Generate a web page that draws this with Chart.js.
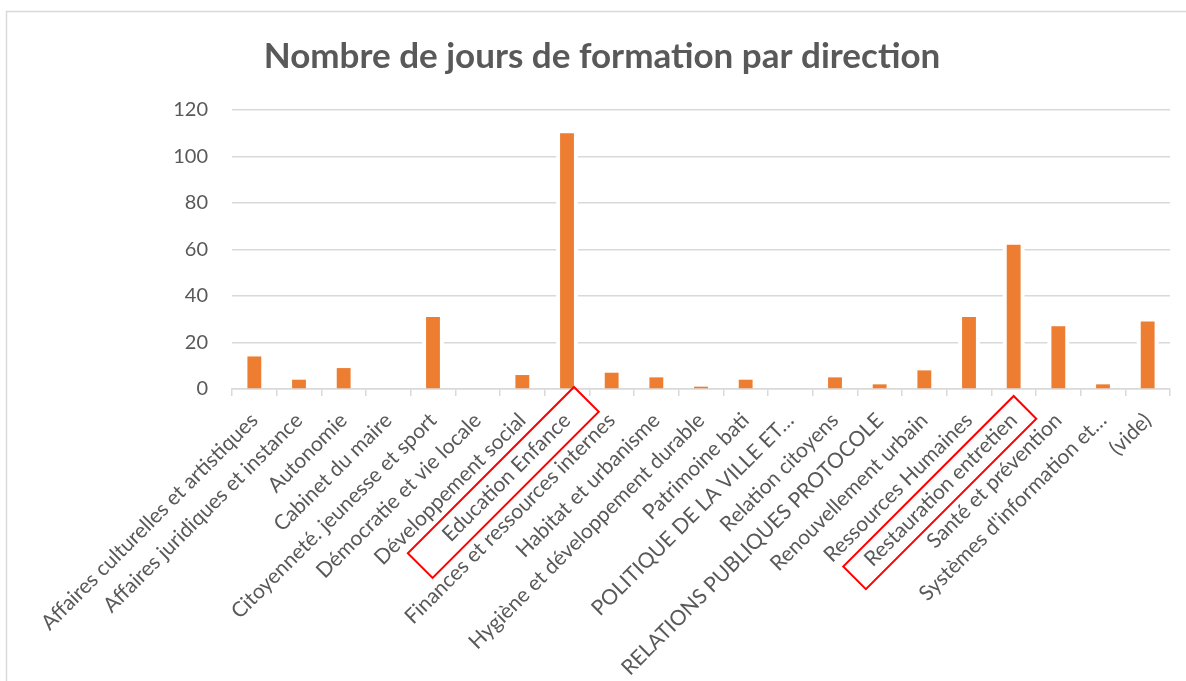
<!DOCTYPE html>
<html lang="fr">
<head>
<meta charset="utf-8">
<title>Nombre de jours de formation par direction</title>
<script src="https://cdn.jsdelivr.net/npm/chart.js@4/dist/chart.umd.min.js"></script>
<style>
    html, body { margin: 0; padding: 0; background: #ffffff; }
    #chart { display: block; }
</style>
</head>
<body>
<canvas id="chart" width="1186" height="681"></canvas>
<script>
// Données du graphique
const directions = [
    'Affaires culturelles et artistiques',
    'Affaires juridiques et instance',
    'Autonomie',
    'Cabinet du maire',
    'Citoyenneté. jeunesse et sport',
    'Démocratie et vie locale',
    'Développement social',
    'Education Enfance',
    'Finances et ressources internes',
    'Habitat et urbanisme',
    'Hygiène et développement durable',
    'Patrimoine bati',
    'POLITIQUE DE LA VILLE ET…',
    'Relation citoyens',
    'RELATIONS PUBLIQUES PROTOCOLE',
    'Renouvellement urbain',
    'Ressources Humaines',
    'Restauration entretien',
    'Santé et prévention',
    "Systèmes d'information et…",
    '(vide)'
];
const joursFormation = [14, 4, 9, 0, 31, 0, 6, 110, 7, 5, 1, 4, 0, 5, 2, 8, 31, 62, 27, 2, 29];
const graduationsY = [0, 20, 40, 60, 80, 100, 120];
// Étiquettes encadrées en rouge
const etiquettesEncadrees = ['Education Enfance', 'Restauration entretien'];

const texte = '#595959';
const grille = '#d9d9d9';
const orange = '#ED7D31';
const police = 'Lato, "Open Sans", sans-serif';
const rotation = 45;

// Cadre gris du graphique
const cadre = {
    id: 'cadre',
    beforeDraw(chart) {
        const ctx = chart.ctx;
        ctx.save();
        ctx.strokeStyle = grille;
        ctx.lineWidth = 1.5;
        ctx.beginPath();
        ctx.moveTo(6.5, chart.height);
        ctx.lineTo(6.5, 11.5);
        ctx.lineTo(chart.width, 11.5);
        ctx.stroke();
        ctx.restore();
    }
};

// Espace blanc autour des barres (coupe le quadrillage comme dans Excel)
const margeBarres = {
    id: 'margeBarres',
    beforeDatasetsDraw(chart) {
        const ctx = chart.ctx;
        const meta = chart.getDatasetMeta(0);
        ctx.save();
        ctx.fillStyle = '#ffffff';
        meta.data.forEach(bar => {
            const h = bar.base - bar.y;
            if (h > 1) {
                ctx.fillRect(bar.x - bar.width / 2 - 4, bar.y, bar.width + 8, h - 1);
            }
        });
        ctx.restore();
    }
};

// Rectangles rouges tracés à la main autour de deux étiquettes
// (décalage du coin haut par rapport au repère, longueur, largeur)
const formesEncadres = [
    { dx: 7, dy: -2, longueur: 235, largeur: 35 },
    { dx: 0, dy: 7, longueur: 241, largeur: 32 }
];

const encadres = {
    id: 'encadres',
    afterDraw(chart) {
        const scale = chart.scales.x;
        const ctx = chart.ctx;
        etiquettesEncadrees.forEach((nom, k) => {
            const i = directions.indexOf(nom);
            if (i < 0) return;
            const f = formesEncadres[k];
            ctx.save();
            ctx.translate(scale.getPixelForTick(i) + f.dx, scale.top + f.dy);
            ctx.rotate(-Math.PI / 4);
            ctx.strokeStyle = '#ff0000';
            ctx.lineWidth = 2;
            ctx.strokeRect(-f.longueur, 0, f.longueur, f.largeur);
            ctx.restore();
        });
    }
};

new Chart(document.getElementById('chart'), {
    type: 'bar',
    data: {
        labels: directions,
        datasets: [{
            label: 'Nombre de jours de formation',
            data: joursFormation,
            backgroundColor: orange,
            borderWidth: 0,
            barPercentage: 0.62,
            categoryPercentage: 0.5
        }]
    },
    options: {
        responsive: false,
        animation: false,
        devicePixelRatio: 1,
        layout: {
            padding: { left: 34, right: 16, top: 0, bottom: 0 }
        },
        plugins: {
            legend: { display: false },
            tooltip: { enabled: false },
            title: {
                display: true,
                text: 'Nombre de jours de formation par direction',
                color: texte,
                font: { family: police, size: 35, weight: 'bold' },
                padding: { top: 36, bottom: 32 }
            }
        },
        scales: {
            x: {
                grid: {
                    offset: true,
                    drawOnChartArea: false,
                    drawTicks: true,
                    tickLength: 7,
                    color: grille,
                    lineWidth: 1.5
                },
                border: { display: true, color: grille, width: 1.5 },
                ticks: {
                    autoSkip: false,
                    minRotation: rotation,
                    maxRotation: rotation,
                    padding: 12,
                    color: texte,
                    font: { family: police, size: 21 }
                },
                afterFit(scale) {
                    scale.height = 292;
                }
            },
            y: {
                min: 0,
                max: 120,
                grid: {
                    color: grille,
                    lineWidth: 1.5,
                    drawTicks: false
                },
                border: { display: false },
                afterBuildTicks(scale) {
                    scale.ticks = graduationsY.map(v => ({ value: v }));
                },
                ticks: {
                    padding: 24,
                    color: texte,
                    font: { family: police, size: 20 }
                },
                afterFit(scale) {
                    scale.width = 198;
                }
            }
        }
    },
    plugins: [cadre, margeBarres, encadres]
});
</script>
</body>
</html>
